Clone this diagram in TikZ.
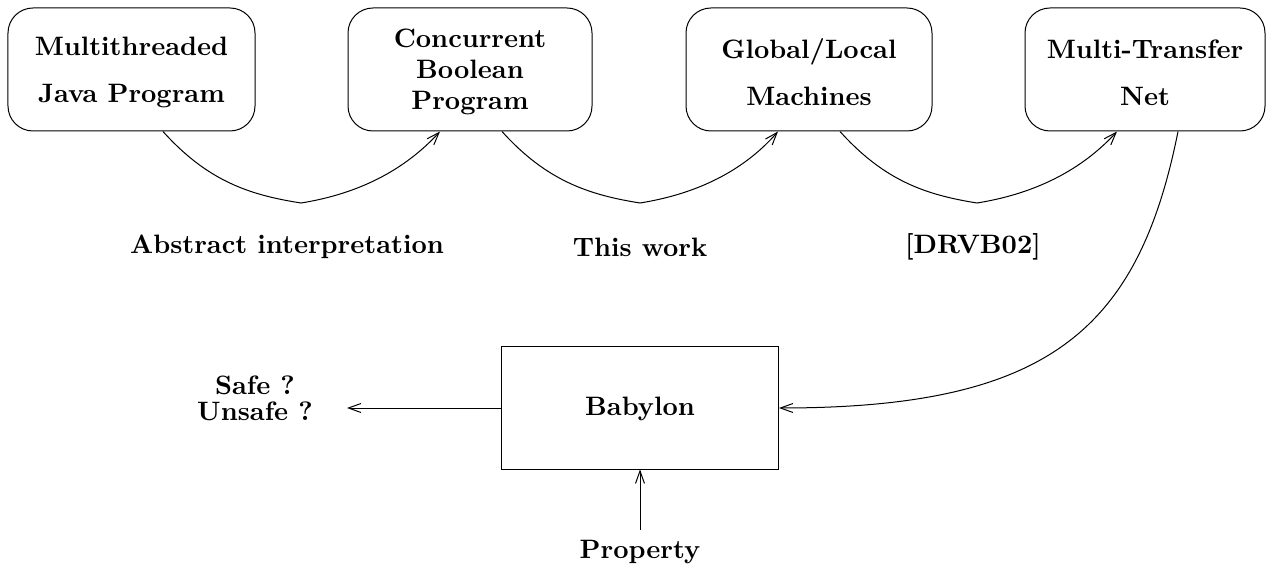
\documentclass[tikz,border=0pt]{standalone}
\usetikzlibrary{arrows.meta,calc}
\begin{document}
\begin{tikzpicture}[x=0.4pt,y=-0.4pt,
  line width=0.4pt,
  every node/.style={font=\fontsize{10.65pt}{12.4pt}\selectfont\bfseries},
  stage/.style={draw,rounded corners=10pt,inner sep=0pt,minimum height=49.2pt},
  tool/.style={draw,inner sep=0pt,minimum width=110.8pt,minimum height=48.8pt},
  lbl/.style={inner sep=0pt,align=center},
  flow/.style={-{Straight Barb[length=5pt,width=3.6pt]}}]
\useasboundingbox (0,0) rectangle (1273,572);

% tool chain
\node[stage,minimum width=98.8pt] (b1) at (131.5,69.5) {};
\node[stage,minimum width=97.6pt] (b2) at (470,69.5) {};
\node[stage,minimum width=98.4pt] (b3) at (809,69.5) {};
\node[stage,minimum width=96pt] (b4) at (1145,69.5) {};
\node[lbl] (t1) at ($(b1)+(0,3)$) {Multithreaded\\[6.4pt]Java Program};
\node[lbl] (t2) at ($(b2)+(0,2)$) {Concurrent\\Boolean\\Program};
\node[lbl] (t3) at ($(b3)+(0,3)$) {Global/Local\\[6.4pt]Machines};
\node[lbl] (t4) at ($(b4)+(0,3)$) {Multi-Transfer\\[6.4pt]Net};

% translation labels
\node[lbl] (l1) at (287,247) {Abstract interpretation};
\node[lbl] (l2) at (640,247) {This work};
\node[lbl] (l3) at (973,247) {[DRVB02]};

% checker
\node[tool] (bab) at (640,408) {};
\node[lbl] (tb) at ($(bab)+(0,1)$) {Babylon};
\node[lbl] (res) at (255,398) {Safe ?\\[-2pt]Unsafe ?};
\coordinate (out) at (347,408);
\node[lbl] (prop) at (640,552) {Property};
\coordinate (pin) at (640,530);

% translations between stages
\draw[flow] ($(b1.south)+(31.5,0)$) .. controls +(45,50) and (250,195) .. (301,203)
            .. controls (351,195) and (400,175) .. ($(b2.south)+(-30,0)$);
\draw[flow] ($(b2.south)+(32,0)$) .. controls +(45,50) and (590,195) .. (640,203)
            .. controls (690,195) and (740,175) .. ($(b3.south)+(-31,0)$);
\draw[flow] ($(b3.south)+(31,0)$) .. controls +(45,50) and (927,195) .. (977,203)
            .. controls (1027,195) and (1077,175) .. ($(b4.south)+(-28,0)$);

% net fed into the checker
\draw[flow] ($(b4.south)+(33,0)$) .. controls +(-40,200) and (1047,408) .. (bab.east);

% verdict and property
\draw[flow] (bab.west) -- (out);
\draw[flow] (pin) -- (bab.south);
\end{tikzpicture}
\end{document}
